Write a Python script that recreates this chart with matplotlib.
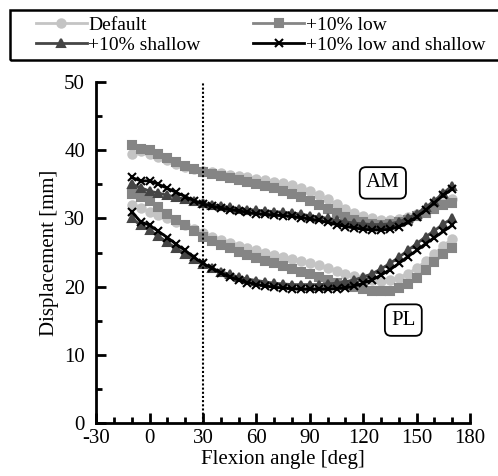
import matplotlib.pyplot as plt
import matplotlib.transforms as mtransforms
from matplotlib.patches import Rectangle
from matplotlib.ticker import MultipleLocator

plt.rcParams["font.family"] = ["Liberation Serif", "DejaVu Serif"]
plt.rcParams["axes.unicode_minus"] = False

flexion = [-10, -5, 0, 5, 10, 15, 20, 25, 30, 35, 40, 45, 50, 55, 60, 65, 70, 75, 80,
           85, 90, 95, 100, 105, 110, 115, 120, 125, 130, 135, 140, 145, 150, 155,
           160, 165, 170]

am_default = [39.5, 39.8, 39.5, 39.0, 38.5, 38.0, 37.6, 37.3, 37.0, 36.8, 36.6, 36.4,
              36.2, 36.0, 35.8, 35.6, 35.4, 35.2, 34.9, 34.5, 34.0, 33.4, 32.8, 32.1,
              31.4, 30.8, 30.3, 30.0, 29.8, 29.8, 29.9, 30.2, 30.6, 31.1, 31.7, 32.3, 32.8]
am_low = [40.8, 40.2, 40.0, 39.4, 38.8, 38.2, 37.7, 37.2, 36.8, 36.5, 36.2, 35.9,
          35.6, 35.3, 35.0, 34.7, 34.4, 34.0, 33.6, 33.1, 32.6, 32.0, 31.4, 30.8,
          30.2, 29.7, 29.4, 29.2, 29.1, 29.2, 29.4, 29.8, 30.3, 30.8, 31.4, 31.9, 32.2]
am_shallow = [35.0, 34.5, 34.0, 33.7, 33.4, 33.1, 32.8, 32.5, 32.2, 32.0, 31.8, 31.6,
              31.4, 31.3, 31.2, 31.1, 31.0, 30.9, 30.8, 30.6, 30.4, 30.2, 30.0, 29.7,
              29.5, 29.3, 29.2, 29.1, 29.1, 29.2, 29.5, 30.0, 30.7, 31.6, 32.6, 33.7, 34.8]
am_low_shallow = [36.0, 35.5, 35.5, 35.0, 34.4, 33.8, 33.2, 32.6, 32.1, 31.8, 31.5, 31.3,
                  31.1, 30.9, 30.7, 30.6, 30.5, 30.4, 30.3, 30.1, 29.9, 29.7, 29.4, 29.1,
                  28.8, 28.6, 28.4, 28.3, 28.3, 28.4, 28.8, 29.4, 30.2, 31.2, 32.3, 33.4, 34.3]

pl_default = [32.0, 31.5, 31.0, 30.5, 30.0, 29.5, 29.0, 28.4, 27.8, 27.3, 26.8, 26.4,
              26.0, 25.6, 25.3, 25.0, 24.7, 24.4, 24.1, 23.8, 23.5, 23.1, 22.7, 22.3,
              21.9, 21.5, 21.2, 21.0, 20.9, 21.0, 21.3, 21.9, 22.7, 23.7, 24.8, 26.0, 27.0]
pl_low = [33.5, 33.2, 32.5, 31.6, 30.7, 29.8, 29.0, 28.1, 27.3, 26.7, 26.1, 25.6,
          25.1, 24.6, 24.2, 23.8, 23.4, 23.0, 22.6, 22.2, 21.8, 21.4, 21.0, 20.6,
          20.2, 19.9, 19.6, 19.4, 19.3, 19.4, 19.8, 20.4, 21.3, 22.4, 23.6, 24.8, 25.6]
pl_shallow = [30.0, 29.0, 28.3, 27.4, 26.5, 25.6, 24.8, 24.0, 23.3, 22.7, 22.2, 21.8,
              21.4, 21.1, 20.9, 20.7, 20.5, 20.4, 20.3, 20.3, 20.3, 20.3, 20.4, 20.5,
              20.7, 21.0, 21.4, 21.9, 22.6, 23.4, 24.3, 25.3, 26.3, 27.3, 28.2, 29.2, 30.0]
pl_low_shallow = [31.0, 29.5, 29.0, 28.1, 27.2, 26.2, 25.3, 24.3, 23.4, 22.7, 22.0, 21.4,
                  21.0, 20.6, 20.3, 20.1, 19.9, 19.8, 19.7, 19.6, 19.6, 19.6, 19.6, 19.7,
                  19.8, 20.1, 20.5, 21.0, 21.7, 22.5, 23.4, 24.4, 25.3, 26.3, 27.2, 28.1, 29.0]

labels = ["Default", "+10% low", "+10% shallow", "+10% low and shallow"]
colors = ["#c4c4c4", "#858585", "#454545", "#000000"]
markers = ["o", "s", "^", "x"]
am_series = [am_default, am_low, am_shallow, am_low_shallow]
pl_series = [pl_default, pl_low, pl_shallow, pl_low_shallow]


fig = plt.figure(figsize=(4.98, 4.76), dpi=100)
ax = fig.add_axes([0.193, 0.111, 0.751, 0.717])

handles = []
for am, pl, lab, c, m in zip(am_series, pl_series, labels, colors, markers):
    h, = ax.plot(flexion, am, color=c, marker=m, markersize=6,
                 markeredgewidth=1.5, linewidth=2, label=lab)
    ax.plot(flexion, pl, color=c, marker=m, markersize=6,
            markeredgewidth=1.5, linewidth=2)
    handles.append(h)

ax.axvline(30, color="black", linestyle=(0, (1, 1)), linewidth=1.5)

box = dict(boxstyle="round,pad=0.3", facecolor="white", edgecolor="black", linewidth=1.3)
ax.text(131, 35.2, "AM", fontsize=15, ha="center", va="center", bbox=box)
ax.text(142.5, 15.1, "PL", fontsize=15, ha="center", va="center", bbox=box)

ax.set_xlim(-30, 180)
ax.set_ylim(0, 50)
ax.xaxis.set_major_locator(MultipleLocator(30))
ax.xaxis.set_minor_locator(MultipleLocator(10))
ax.yaxis.set_major_locator(MultipleLocator(10))
ax.yaxis.set_minor_locator(MultipleLocator(5))
ax.tick_params(which="both", direction="in", width=2, labelsize=15)
ax.tick_params(which="major", length=7)
ax.tick_params(which="minor", length=4)
ax.tick_params(axis="x", pad=4)
ax.tick_params(axis="y", pad=8)

for side in ["top", "right"]:
    ax.spines[side].set_visible(False)
for side in ["left", "bottom"]:
    ax.spines[side].set_linewidth(2)

ax.set_xlabel("Flexion angle [deg]", fontsize=15, labelpad=2)
ax.set_ylabel("Displacement [mm]", fontsize=15)

# lift the "0" on the y axis a little so it clears "-30"
fig.canvas.draw()
zero_lbl = ax.get_yticklabels()[0]
zero_lbl.set_transform(zero_lbl.get_transform() +
                       mtransforms.ScaledTranslation(-2 / 72, 5 / 72, fig.dpi_scale_trans))

# row-major legend order: Default, +10% low / +10% shallow, +10% low and shallow
order = [0, 2, 1, 3]
leg = fig.legend(handles=[handles[i] for i in order], loc="upper left",
                 bbox_to_anchor=(36 / 498, 1 - 16 / 476),
                 ncol=2, fontsize=14, frameon=False, handlelength=2.6,
                 handletextpad=0.1, columnspacing=2.7, borderaxespad=0,
                 labelspacing=0.15, borderpad=0)
fig.patches.append(Rectangle((10 / 498, 1 - 60 / 476), 1.0, 50 / 476,
                             transform=fig.transFigure, fill=False,
                             edgecolor="black", linewidth=1.8))

fig.savefig("out.png", dpi=100)
